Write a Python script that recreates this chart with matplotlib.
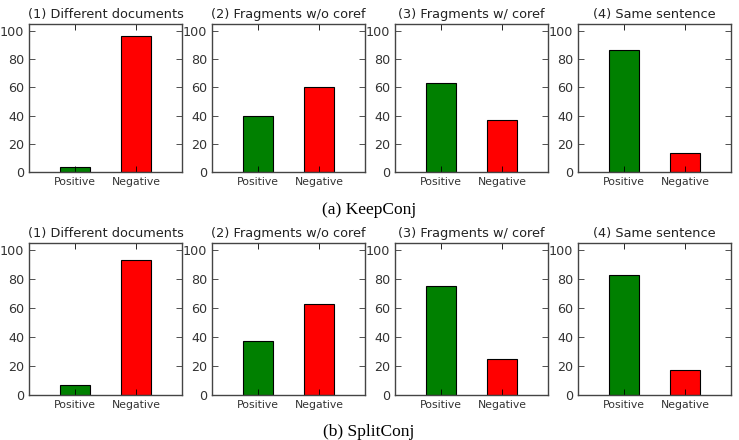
import matplotlib.pyplot as plt

# data
categories = ['Positive', 'Negative']
titles = ['(1) Different documents', '(2) Fragments w/o coref',
          '(3) Fragments w/ coref', '(4) Same sentence']
keepconj = [[3.6, 96.4], [39.5, 60.5], [63.0, 37.0], [86.7, 13.3]]
splitconj = [[6.9, 93.1], [37.0, 63.0], [75.3, 24.7], [83.0, 17.0]]
captions = ['(a) KeepConj', '(b) SplitConj']
colors = ['green', 'red']

W, H = 739, 440
fig = plt.figure(figsize=(W / 100, H / 100), dpi=100)

lefts = [29, 212, 395, 578]
ax_w = 153
rows = [(24, 172, keepconj), (243, 395, splitconj)]

for top, bottom, data in rows:
    for i, vals in enumerate(data):
        ax = fig.add_axes([lefts[i] / W, 1 - bottom / H, ax_w / W, (bottom - top) / H])
        ax.bar(range(len(categories)), vals, width=0.5, color=colors,
               edgecolor='black', linewidth=0.8)
        ax.set_xlim(-0.75, 1.75)
        ax.set_ylim(0, 105)
        ax.set_yticks(range(0, 101, 20))
        ax.set_xticks(range(len(categories)))
        ax.set_xticklabels(categories, fontsize=7.8, color='#333333')
        ax.tick_params(axis='y', labelsize=9.2, colors='#333333')
        ax.tick_params(direction='in', top=True, right=True, length=4, width=0.6)
        for s in ax.spines.values():
            s.set_color('#444444')
            s.set_linewidth(1.0)
        ax.set_title(titles[i], fontsize=9.3, pad=4, color='#222222')

fig.text(369 / W, 1 - 210 / H, captions[0], ha='center', va='center',
         fontsize=12.5, family='Liberation Serif')
fig.text(369 / W, 1 - 432 / H, captions[1], ha='center', va='center',
         fontsize=12.5, family='Liberation Serif')

fig.savefig('out.png', dpi=100, facecolor='white')
